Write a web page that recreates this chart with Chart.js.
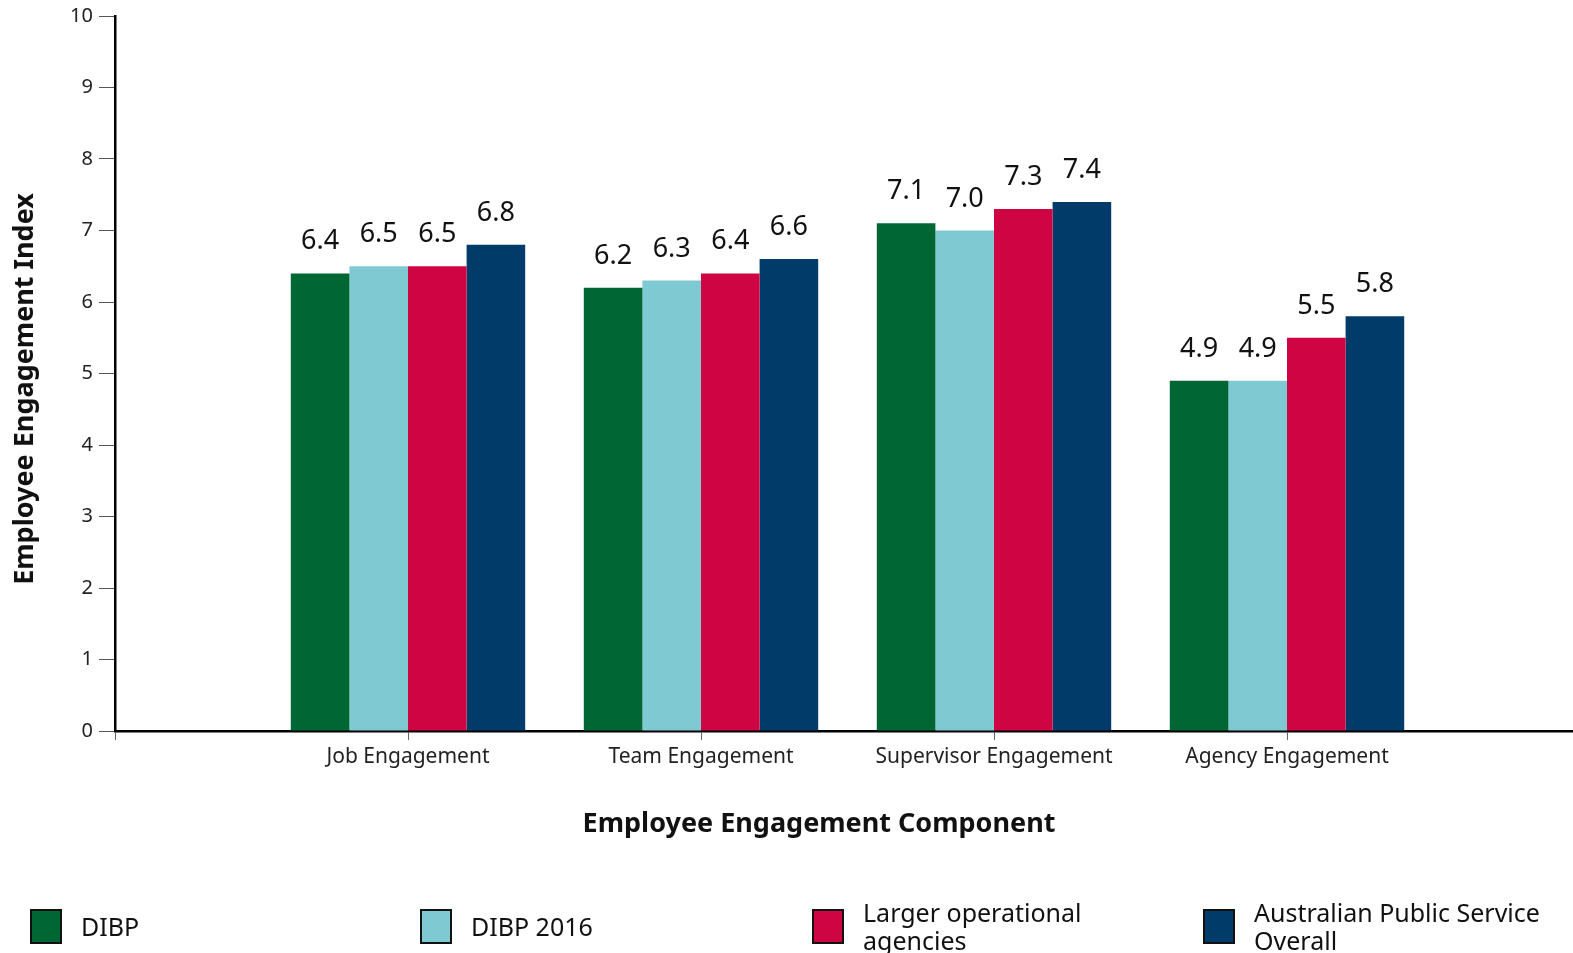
<!DOCTYPE html>
<html>
<head>
<meta charset="utf-8">
<script src="https://cdn.jsdelivr.net/npm/chart.js@4.4.1/dist/chart.umd.min.js"></script>
<style>
  body { margin: 0; overflow: hidden; background: #fff; font-family: "Noto Sans", sans-serif; }
  #wrap { position: relative; width: 1573px; height: 953px; overflow: hidden; }
  #legend { position: absolute; left: 0; top: 896px; width: 1573px; height: 60px; }
  .item { position: absolute; top: 0; height: 60px; display: flex; align-items: center; }
  .box { width: 28px; height: 31px; border: 2px solid #111; margin-right: 19px; flex: none; }
  .txt { font-size: 25px; line-height: 28px; color: #111; white-space: pre; }
</style>
</head>
<body>
<div id="wrap">
  <canvas id="chart" width="1584" height="953"></canvas>
  <div id="legend"></div>
</div>
<script>
// empty slots at both ends keep the groups off the axes
const categories = ['', 'Job Engagement', 'Team Engagement', 'Supervisor Engagement', 'Agency Engagement', ''];

const dibp       = [null, 6.4, 6.2, 7.1, 4.9, null];
const dibp2016   = [null, 6.5, 6.3, 7.0, 4.9, null];
const largerOps  = [null, 6.5, 6.4, 7.3, 5.5, null];
const apsOverall = [null, 6.8, 6.6, 7.4, 5.8, null];

const seriesNames = ['DIBP', 'DIBP 2016', 'Larger operational\nagencies', 'Australian Public Service\nOverall'];
const colors = ['#006633', '#7fcad2', '#cf0442', '#003b69'];
const legendLeft = [30, 420, 812, 1203];

const valueLabels = {
  id: 'valueLabels',
  afterDatasetsDraw(chart) {
    const ctx = chart.ctx;
    ctx.save();
    ctx.font = '27px "Noto Sans"';
    ctx.fillStyle = '#111';
    ctx.textAlign = 'center';
    ctx.textBaseline = 'alphabetic';
    chart.data.datasets.forEach((ds, i) => {
      chart.getDatasetMeta(i).data.forEach((bar, j) => {
        const v = ds.data[j];
        if (v == null) return;
        ctx.fillText(v.toFixed(1), bar.x, bar.y - 24);
      });
    });
    ctx.restore();
  }
};

const axisTitles = {
  id: 'axisTitles',
  afterDraw(chart) {
    const ctx = chart.ctx;
    const a = chart.chartArea;
    ctx.save();
    ctx.font = 'bold 27px "Noto Sans"';
    ctx.fillStyle = '#111';
    ctx.textAlign = 'center';
    ctx.textBaseline = 'middle';
    ctx.fillText('Employee Engagement Component', a.left + 704, a.bottom + 93);
    ctx.translate(25, a.top + 373);
    ctx.rotate(-Math.PI / 2);
    ctx.fillText('Employee Engagement Index', 0, 0);
    ctx.restore();
  }
};

new Chart(document.getElementById('chart'), {
  type: 'bar',
  data: {
    labels: categories,
    datasets: [dibp, dibp2016, largerOps, apsOverall].map((d, i) => ({
      label: seriesNames[i],
      data: d,
      backgroundColor: colors[i],
      borderWidth: 0,
      categoryPercentage: 0.8,
      barPercentage: 1.0
    }))
  },
  options: {
    responsive: false,
    animation: false,
    layout: { padding: { top: 15, right: 0, bottom: 0, left: 0 } },
    plugins: {
      legend: { display: false },
      tooltip: { enabled: false }
    },
    scales: {
      x: {
        offset: false,
        grid: { offset: false, drawOnChartArea: false, tickLength: 9, tickColor: '#666', lineWidth: 1 },
        border: { color: '#000', width: 2.5 },
        ticks: { color: '#222', font: { family: 'Noto Sans', size: 21 }, padding: 4, maxRotation: 0, autoSkip: false },
        afterFit(scale) { scale.height = 222; }
      },
      y: {
        min: 0,
        max: 10,
        grid: { drawOnChartArea: false, tickLength: 16, tickColor: '#555', lineWidth: 1 },
        border: { color: '#000', width: 2.5 },
        ticks: { stepSize: 1, color: '#222', font: { family: 'Noto Sans', size: 20, lineHeight: 1 }, padding: 6 },
        afterFit(scale) { scale.width = 115; }
      }
    }
  },
  plugins: [valueLabels, axisTitles]
});

// html legend, two-line names allowed
const legend = document.getElementById('legend');
seriesNames.forEach((name, i) => {
  const item = document.createElement('div');
  item.className = 'item';
  item.style.left = legendLeft[i] + 'px';
  const box = document.createElement('div');
  box.className = 'box';
  box.style.background = colors[i];
  const txt = document.createElement('div');
  txt.className = 'txt';
  txt.textContent = name;
  item.appendChild(box);
  item.appendChild(txt);
  legend.appendChild(item);
});
</script>
</body>
</html>
